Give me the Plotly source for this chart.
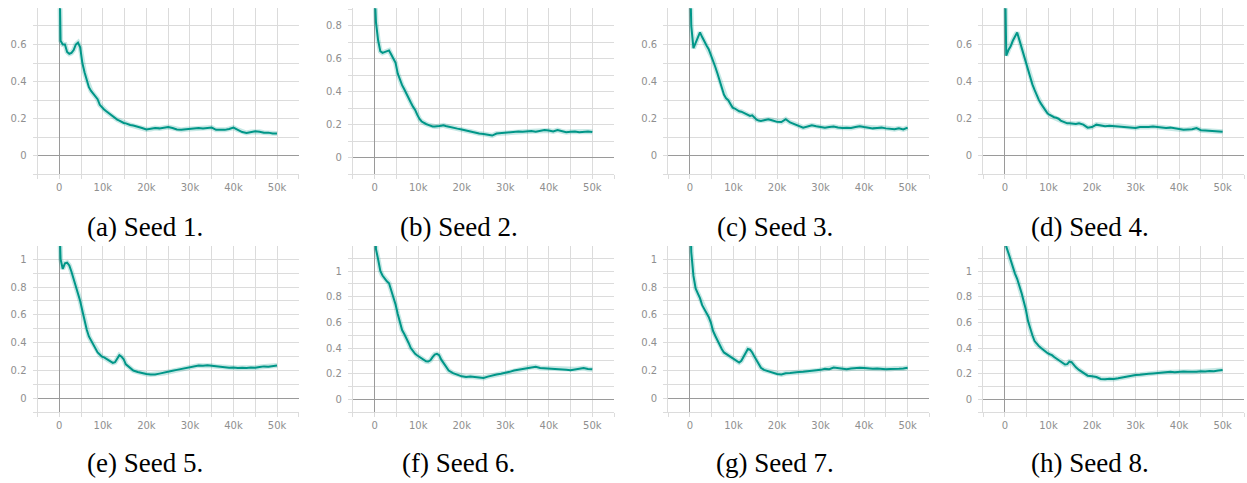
import plotly.graph_objects as go

# ---------------- data ----------------
steps = [0, 300, 800, 1300, 1800, 2300, 2800, 3300, 3800, 4300,
         4800, 5300, 5800, 6300, 6800, 7300, 7800, 8300, 8800, 9300,
         9800, 10300, 10800, 11300, 11800, 12300, 12800, 13300, 13800, 14300,
         14800, 15300, 15800, 16300,
         17000, 18000, 19000, 20000, 21000, 22000, 23000, 24000, 25000, 26000,
         27000, 28000, 29000, 30000, 31000, 32000, 33000, 34000, 35000, 36000,
         37000, 38000, 39000, 40000, 41000, 42000, 43000, 44000, 45000, 46000,
         47000, 48000, 49000, 50000]

seed1 = [1.05, 0.62, 0.60, 0.60, 0.56, 0.55, 0.555, 0.57, 0.60, 0.61,
         0.585, 0.50, 0.45, 0.41, 0.37, 0.35, 0.335, 0.32, 0.305, 0.275,
         0.26, 0.25, 0.24, 0.23, 0.22, 0.21, 0.202, 0.195, 0.19, 0.183,
         0.177, 0.175, 0.17, 0.166,
         0.163, 0.158, 0.150, 0.142, 0.145, 0.150, 0.148, 0.152, 0.155, 0.150,
         0.142, 0.140, 0.143, 0.145, 0.148, 0.150, 0.147, 0.150, 0.152, 0.140,
         0.138, 0.140, 0.145, 0.152, 0.140, 0.128, 0.123, 0.128, 0.132, 0.130,
         0.125, 0.125, 0.120, 0.120]

seed2 = [1.0, 0.82, 0.71, 0.645, 0.635, 0.64, 0.645, 0.65, 0.625, 0.60,
         0.575, 0.51, 0.47, 0.44, 0.415, 0.385, 0.355, 0.335, 0.31, 0.29,
         0.26, 0.235, 0.22, 0.21, 0.205, 0.20, 0.195, 0.19, 0.19, 0.19,
         0.193, 0.195, 0.197, 0.193,
         0.19, 0.185, 0.177, 0.172, 0.165, 0.16, 0.152, 0.147, 0.145, 0.142,
         0.135, 0.147, 0.150, 0.152, 0.155, 0.157, 0.16, 0.158, 0.16, 0.162,
         0.158, 0.163, 0.168, 0.165, 0.16, 0.168, 0.16, 0.155, 0.158, 0.16,
         0.155, 0.158, 0.16, 0.156]

seed3 = [1.0, 0.70, 0.58, 0.61, 0.64, 0.665, 0.64, 0.615, 0.595, 0.575,
         0.545, 0.52, 0.48, 0.445, 0.41, 0.375, 0.33, 0.31, 0.30, 0.28,
         0.26, 0.255, 0.245, 0.24, 0.238, 0.232, 0.225, 0.22, 0.215, 0.218,
         0.205, 0.195, 0.19, 0.188,
         0.192, 0.197, 0.19, 0.183, 0.182, 0.197, 0.18, 0.172, 0.163, 0.152,
         0.158, 0.165, 0.16, 0.155, 0.152, 0.155, 0.158, 0.153, 0.15, 0.152,
         0.15, 0.155, 0.16, 0.155, 0.152, 0.148, 0.15, 0.152, 0.148, 0.145,
         0.143, 0.148, 0.142, 0.152]

seed4 = [1.0, 0.54, 0.57, 0.59, 0.62, 0.645, 0.665, 0.625, 0.585, 0.545,
         0.50, 0.465, 0.43, 0.385, 0.355, 0.325, 0.30, 0.28, 0.26, 0.245,
         0.228, 0.22, 0.212, 0.208, 0.205, 0.20, 0.19, 0.185, 0.178, 0.175,
         0.175, 0.173, 0.175, 0.172,
         0.175, 0.168, 0.152, 0.155, 0.168, 0.165, 0.16, 0.162, 0.16, 0.162,
         0.158, 0.155, 0.152, 0.15, 0.155, 0.153, 0.155, 0.158, 0.155, 0.152,
         0.15, 0.152, 0.148, 0.143, 0.14, 0.142, 0.143, 0.15, 0.138, 0.137,
         0.135, 0.132, 0.133, 0.13]

seed5 = [1.3, 1.0, 0.93, 0.97, 0.975, 0.955, 0.91, 0.86, 0.81, 0.76,
         0.70, 0.63, 0.555, 0.495, 0.445, 0.415, 0.39, 0.36, 0.33, 0.315,
         0.30, 0.295, 0.285, 0.273, 0.265, 0.255, 0.26, 0.29, 0.31, 0.30,
         0.28, 0.245, 0.23, 0.215,
         0.20, 0.19, 0.18, 0.175, 0.172, 0.172, 0.178, 0.183, 0.19, 0.198,
         0.205, 0.212, 0.22, 0.228, 0.232, 0.237, 0.235, 0.238, 0.235, 0.23,
         0.226, 0.222, 0.22, 0.222, 0.218, 0.22, 0.218, 0.222, 0.22, 0.225,
         0.23, 0.228, 0.232, 0.237]

seed6 = [1.5, 1.17, 1.09, 1.0, 0.965, 0.94, 0.92, 0.905, 0.85, 0.80,
         0.74, 0.665, 0.60, 0.54, 0.51, 0.48, 0.44, 0.40, 0.375, 0.355,
         0.342, 0.33, 0.315, 0.305, 0.297, 0.295, 0.305, 0.33, 0.35, 0.355,
         0.345, 0.31, 0.285, 0.26,
         0.225, 0.205, 0.192, 0.18, 0.175, 0.178, 0.175, 0.172, 0.168, 0.178,
         0.188, 0.195, 0.20, 0.205, 0.215, 0.225, 0.232, 0.24, 0.245, 0.252,
         0.255, 0.245, 0.243, 0.24, 0.238, 0.24, 0.235, 0.232, 0.228, 0.235,
         0.24, 0.245, 0.238, 0.235]

seed7 = [1.4, 1.05, 0.88, 0.79, 0.755, 0.72, 0.67, 0.645, 0.62, 0.585,
         0.545, 0.485, 0.45, 0.415, 0.385, 0.355, 0.33, 0.32, 0.31, 0.30,
         0.29, 0.28, 0.265, 0.258, 0.27, 0.295, 0.33, 0.355, 0.35, 0.33,
         0.30, 0.27, 0.24, 0.22,
         0.205, 0.195, 0.19, 0.175, 0.172, 0.18, 0.182, 0.188, 0.19, 0.192,
         0.195, 0.20, 0.198, 0.205, 0.212, 0.21, 0.222, 0.218, 0.212, 0.21,
         0.215, 0.218, 0.22, 0.218, 0.215, 0.213, 0.215, 0.212, 0.21, 0.212,
         0.215, 0.213, 0.215, 0.22]

seed8 = [1.25, 1.19, 1.14, 1.08, 1.02, 0.98, 0.94, 0.89, 0.83, 0.765,
         0.70, 0.61, 0.55, 0.50, 0.455, 0.43, 0.415, 0.40, 0.385, 0.37,
         0.36, 0.352, 0.345, 0.33, 0.318, 0.308, 0.298, 0.285, 0.272, 0.275,
         0.295, 0.29, 0.265, 0.25,
         0.23, 0.205, 0.185, 0.18, 0.175, 0.16, 0.157, 0.162, 0.16, 0.165,
         0.172, 0.18, 0.188, 0.19, 0.192, 0.198, 0.20, 0.203, 0.207, 0.21,
         0.212, 0.215, 0.212, 0.215, 0.218, 0.215, 0.213, 0.215, 0.22, 0.218,
         0.222, 0.22, 0.225, 0.23]

series = [seed1, seed2, seed3, seed4, seed5, seed6, seed7, seed8]
captions = ["(a) Seed 1.", "(b) Seed 2.", "(c) Seed 3.", "(d) Seed 4.",
            "(e) Seed 5.", "(f) Seed 6.", "(g) Seed 7.", "(h) Seed 8."]
y_tops = [0.795, 0.905, 0.795, 0.795, 1.095, 1.195, 1.095, 1.195]

# ---------------- layout ----------------
W, H = 1247, 483
col_px = [(37.5, 298.8), (352.9, 614.1), (668.2, 929.4), (983.2, 1244.4)]
row_px = [(8.3, 174.4), (246.0, 412.3)]
cap_x = [145, 458.5, 775, 1090]
cap_y = [226.5, 463.0]

LINE = "#009688"
GRID = "#dcdcdc"
ZERO = "#9a9a9a"
TICKFONT = dict(family="DejaVu Sans", size=10, color="#8f8f8f")

fig = go.Figure()
layout = dict(width=W, height=H, margin=dict(l=0, r=0, t=0, b=0),
              paper_bgcolor="white", plot_bgcolor="white", showlegend=False,
              annotations=[])

for i, vals in enumerate(series):
    r, c = divmod(i, 4)
    n = i + 1
    xa = "x" if n == 1 else f"x{n}"
    ya = "y" if n == 1 else f"y{n}"
    # faint halo (raw values look)
    fig.add_trace(go.Scatter(x=steps, y=vals, xaxis=xa, yaxis=ya, mode="lines",
                             line=dict(color=LINE, width=5), opacity=0.22,
                             hoverinfo="skip"))
    fig.add_trace(go.Scatter(x=steps, y=vals, xaxis=xa, yaxis=ya, mode="lines",
                             line=dict(color=LINE, width=2)))
    x0, x1 = col_px[c]
    yt, yb = row_px[r]
    xdom = [x0 / W, x1 / W]
    ydom = [(H - yb) / H, (H - yt) / H]
    layout[f"xaxis{'' if n == 1 else n}"] = dict(
        domain=xdom, anchor=ya, range=[-5000, 55000],
        tickmode="linear", tick0=0, dtick=10000, tickformat="~s",
        showgrid=True, gridcolor=GRID, gridwidth=1,
        zeroline=True, zerolinecolor=ZERO, zerolinewidth=1,
        showline=True, linecolor=GRID, linewidth=1,
        ticks="outside", ticklen=4, tickcolor=GRID, tickfont=TICKFONT,
        minor=dict(dtick=5000, tick0=0, showgrid=True, gridcolor=GRID,
                   ticks="outside", ticklen=4, tickcolor=GRID),
        fixedrange=True)
    layout[f"yaxis{'' if n == 1 else n}"] = dict(
        domain=ydom, anchor=xa, range=[-0.1, y_tops[i]],
        tickmode="linear", tick0=0, dtick=0.2,
        showgrid=True, gridcolor=GRID, gridwidth=1,
        zeroline=True, zerolinecolor=ZERO, zerolinewidth=1,
        showline=True, linecolor=GRID, linewidth=1,
        ticks="outside", ticklen=4, tickcolor=GRID, tickfont=TICKFONT,
        ticklabelstandoff=4,
        minor=dict(dtick=0.1, tick0=0, showgrid=True, gridcolor=GRID,
                   ticks="outside", ticklen=4, tickcolor=GRID),
        fixedrange=True)
    layout["annotations"].append(dict(
        text=captions[i], xref="paper", yref="paper",
        x=cap_x[c] / W, y=(H - cap_y[r]) / H, xanchor="center", yanchor="middle",
        showarrow=False, font=dict(family="Liberation Serif", size=27, color="black")))

fig.update_layout(**layout)
fig.write_html("out.html", config={"displayModeBar": False},
               post_script="document.body.style.margin='0';")
